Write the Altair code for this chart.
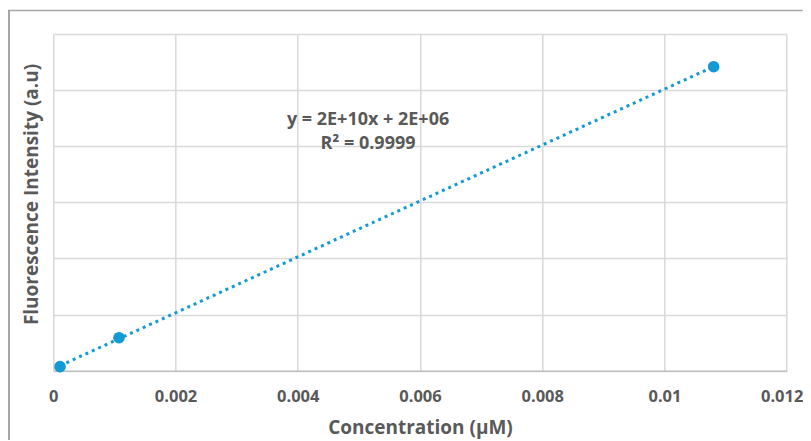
import altair as alt
import pandas as pd

# Data
conc = [0.00011, 0.001075, 0.010805]
intensity = [2.9e6, 2.35e7, 2.167e8]
x_ticks = [0, 0.002, 0.004, 0.006, 0.008, 0.01, 0.012]
y_ticks = [0, 4e7, 8e7, 1.2e8, 1.6e8, 2.0e8, 2.4e8]
eq_text = ["y = 2E+10x + 2E+06", "R² = 0.9999"]
eq_x = [0.00515, 0.00515]
eq_y = [1.751e8, 1.578e8]

W, H = 733.4, 336.7
PAD = {"left": 45.3, "top": 26, "right": 16, "bottom": 69.3}
BLUE = "#1399d3"
TXT = "#595959"
FONT = "Open Sans"

df = pd.DataFrame({"conc": conc, "intensity": intensity})
df_eq = pd.DataFrame({"x": eq_x, "y": eq_y, "t": eq_text})

xscale = alt.Scale(domain=[0, 0.012], nice=False)
yscale = alt.Scale(domain=[0, 2.4e8], nice=False)

xaxis = alt.Axis(
    values=x_ticks, format="~g", grid=True, gridColor="#d9d9d9", gridWidth=1.5,
    domainColor="#bfbfbf", domainWidth=1.5, ticks=False, tickSize=0,
    labelFont=FONT, labelFontWeight="bold", labelFontSize=16.5, labelColor=TXT,
    labelPadding=18, labelFlush=False, labelOverlap=False,
    labelOffset=alt.condition("datum.value >= 0.0119", alt.value(-5), alt.value(0)),
    title="Concentration (µM)", titleFont=FONT, titleFontSize=19,
    titleFontWeight="bold", titleColor=TXT, titleY=63.3, titleBaseline="alphabetic",
)
yaxis = alt.Axis(
    values=y_ticks, grid=True, gridColor="#d9d9d9", gridWidth=1.5,
    labels=False, ticks=False, domain=False,
    title="Fluorescence Intensity (a.u)", titleFont=FONT, titleFontSize=19,
    titleFontWeight="bold", titleColor=TXT, titleAngle=-90, titleX=-16,
    titleY=160, titleBaseline="alphabetic", titleAlign="center",
)

base = alt.Chart(df)

points = base.mark_point(filled=True, size=135, color=BLUE, opacity=1).encode(
    x=alt.X("conc:Q", scale=xscale, axis=xaxis),
    y=alt.Y("intensity:Q", scale=yscale, axis=yaxis),
)

trend = base.transform_regression("conc", "intensity").mark_line(
    color=BLUE, strokeWidth=3, strokeDash=[3, 4]
).encode(
    x=alt.X("conc:Q", scale=xscale),
    y=alt.Y("intensity:Q", scale=yscale),
)

eq = alt.Chart(df_eq).mark_text(
    font=FONT, fontWeight="bold", fontSize=18, color=TXT,
    align="center", baseline="alphabetic",
).encode(
    x=alt.X("x:Q", scale=xscale),
    y=alt.Y("y:Q", scale=yscale),
    text="t:N",
)

one = alt.Chart(pd.DataFrame({"a": [0]}))
top_border = one.mark_rule(color="#a6a6a6", strokeWidth=1.5).encode(
    x=alt.value(-PAD["left"]), x2=alt.value(W + PAD["right"]), y=alt.value(-23.5)
)
left_border = one.mark_rule(color="#a6a6a6", strokeWidth=2).encode(
    x=alt.value(-PAD["left"] + 1), y=alt.value(-23.5), y2=alt.value(H + PAD["bottom"])
)

chart = alt.layer(trend, points, eq, top_border, left_border).properties(
    width=W, height=H, padding=PAD, autosize=alt.AutoSizeParams(type="none"),
    background="white",
).configure_view(stroke="transparent")

chart.save("out.html", embed_options={"renderer": "svg", "actions": False})
